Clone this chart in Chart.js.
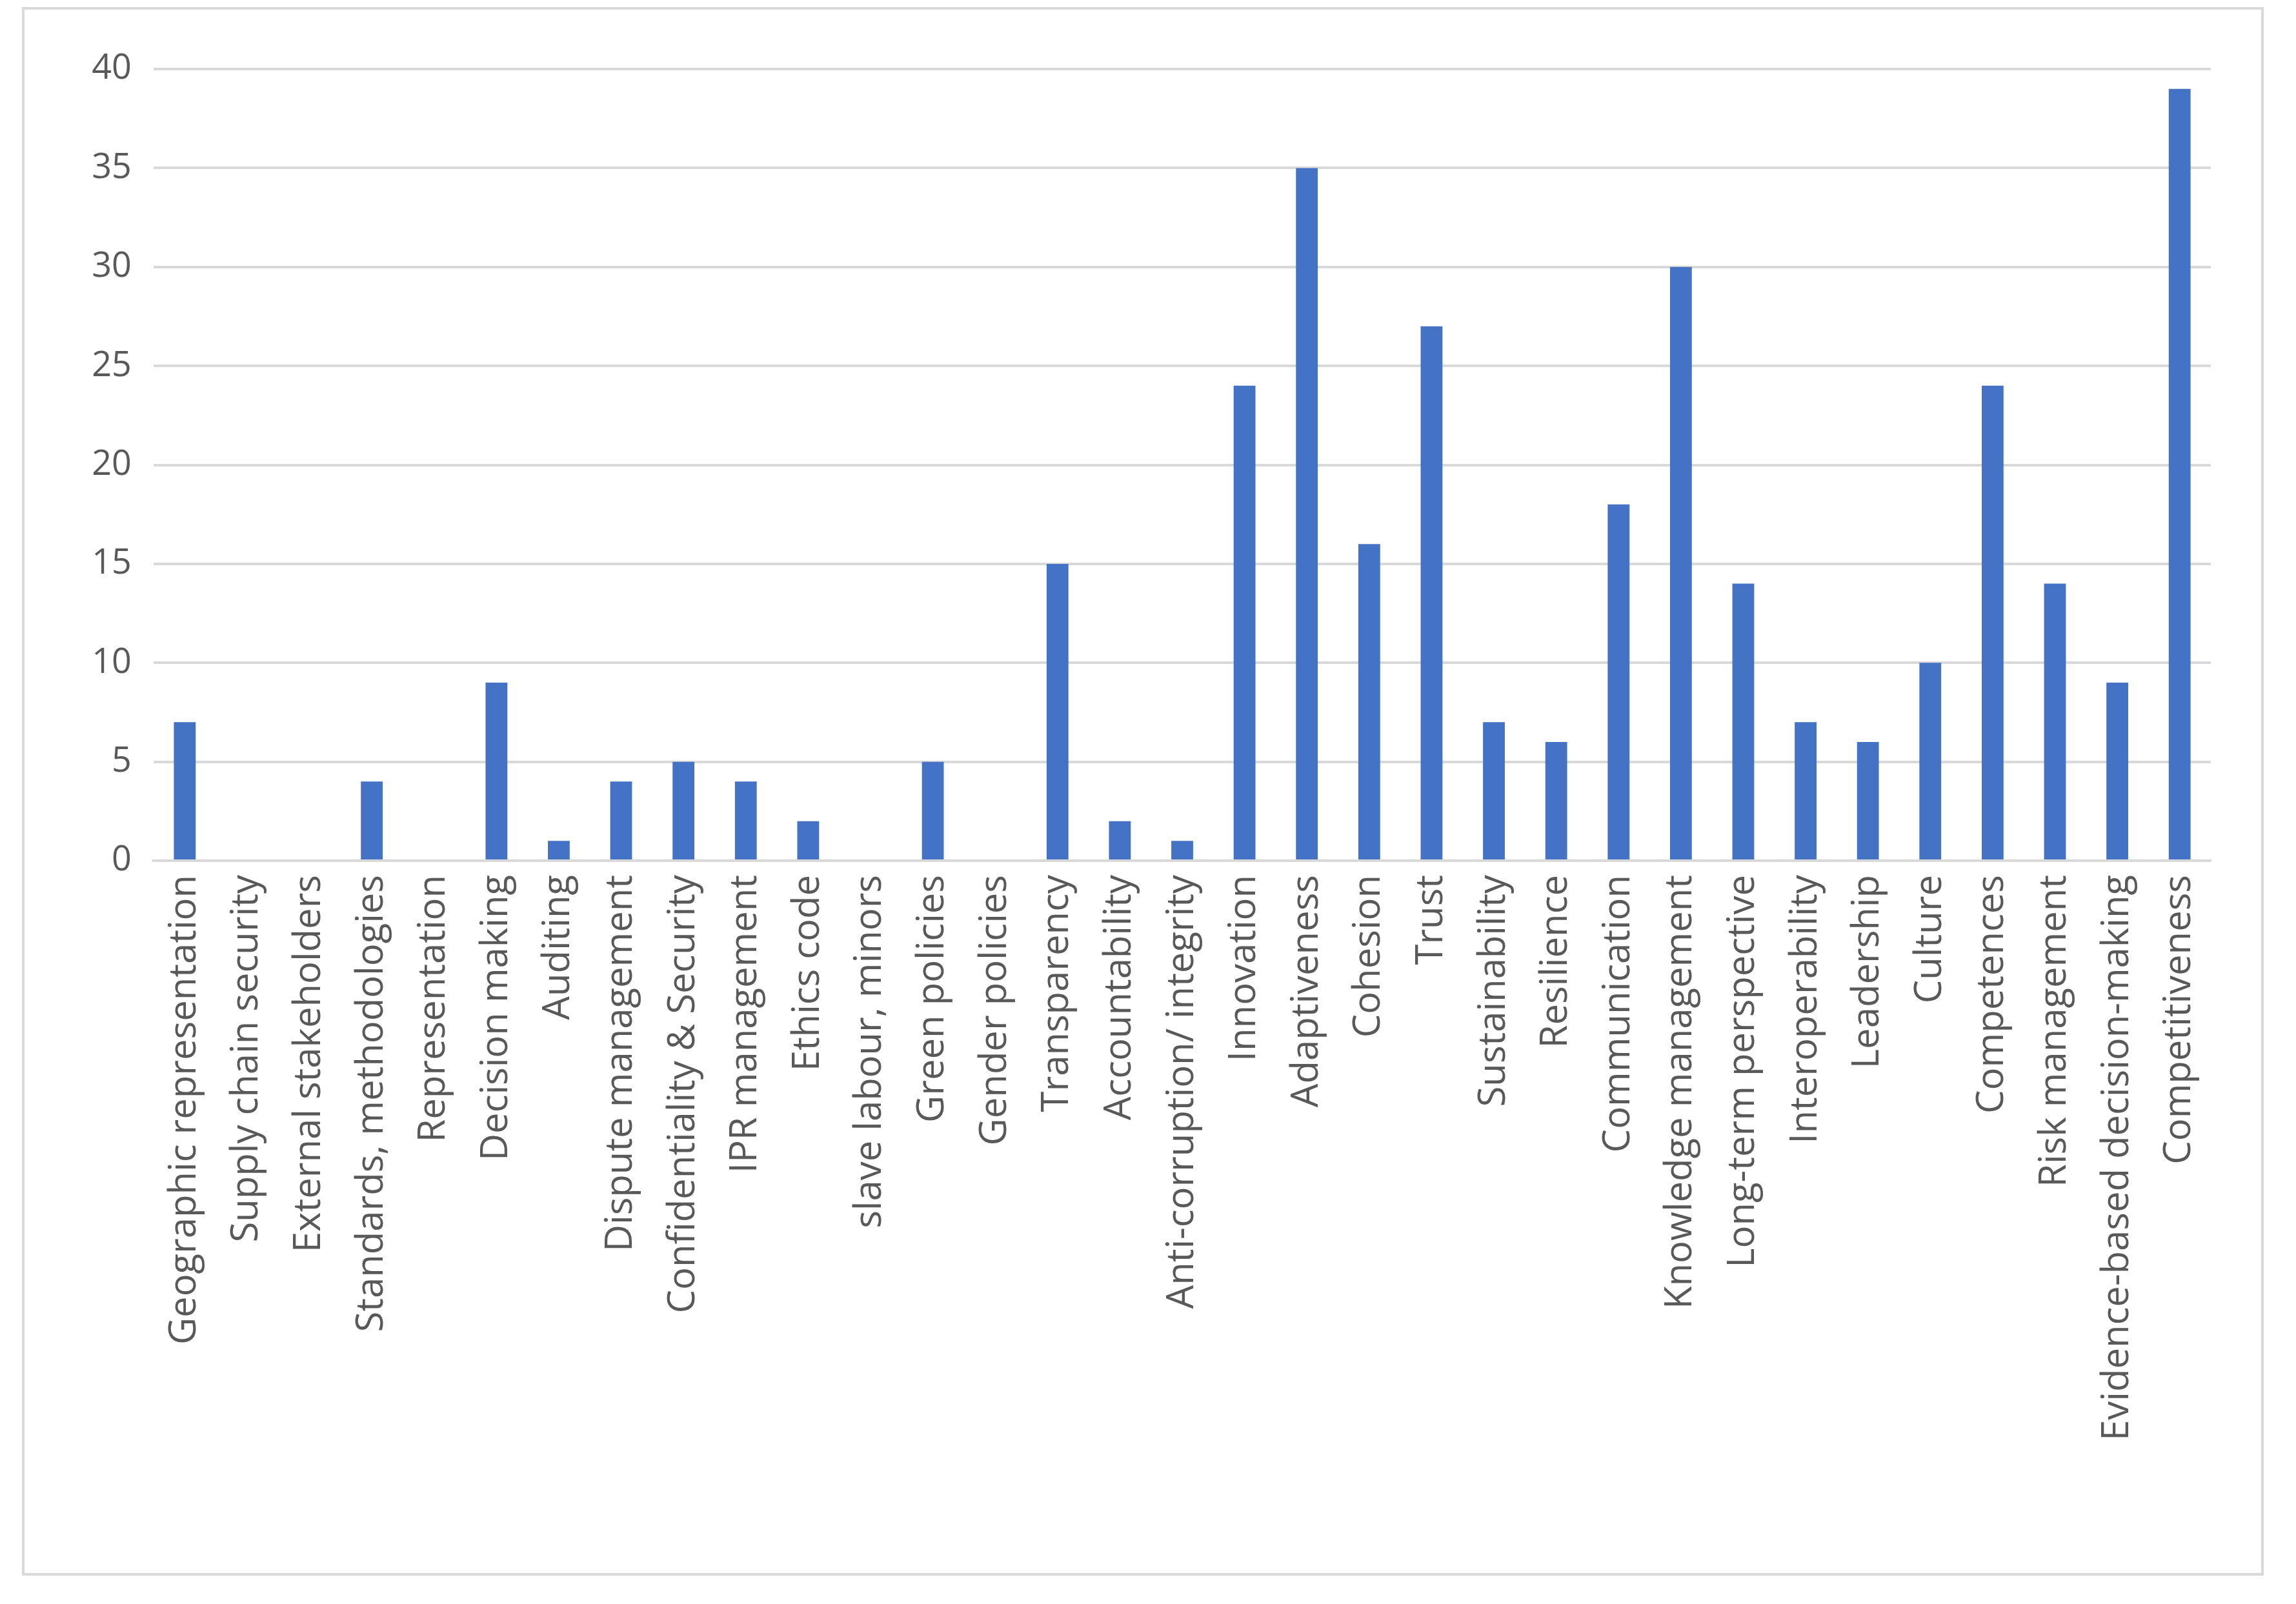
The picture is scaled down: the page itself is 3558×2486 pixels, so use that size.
<!DOCTYPE html>
<html><head><meta charset="utf-8">
<script src="https://cdn.jsdelivr.net/npm/chart.js@4/dist/chart.umd.min.js"></script>
<style>
html,body{margin:0;padding:0;background:#fff;width:3558px;height:2486px;overflow:hidden}
#box{position:absolute;left:34px;top:11px;width:3474px;height:2431px;border:4px solid #d9d9d9;box-sizing:border-box}
#wrap{position:absolute;left:0;top:0;width:3466px;height:2423px}
</style></head><body>
<div id="box"><div id="wrap"><canvas id="c"></canvas></div></div>
<script>
const categories=["Geographic representation","Supply chain security","External stakeholders","Standards, methodologies","Representation","Decision making","Auditing","Dispute management","Confidentiality & Security","IPR management","Ethics code","slave labour, minors","Green policies","Gender policies","Transparency","Accountability","Anti-corruption/ integrity","Innovation","Adaptiveness","Cohesion","Trust","Sustainability","Resilience","Communication","Knowledge management","Long-term perspective","Interoperability","Leadership","Culture","Competences","Risk management","Evidence-based decision-making","Competitiveness"];
const values=[7,0,0,4,0,9,1,4,5,4,2,0,5,0,15,2,1,24,35,16,27,7,6,18,30,14,7,6,10,24,14,9,39];
const yTicks=[0,5,10,15,20,25,30,35,40];
new Chart(document.getElementById('c'),{
type:'bar',
data:{labels:categories,datasets:[{data:values,backgroundColor:'#4472C4',categoryPercentage:0.7,barPercentage:0.5}]},
options:{responsive:true,maintainAspectRatio:false,animation:false,
layout:{padding:{top:92,right:78,left:0,bottom:0}},
plugins:{legend:{display:false},tooltip:{enabled:false}},
scales:{
x:{grid:{display:false},border:{color:'#d9d9d9',width:4},afterFit:s=>{s.height=1104;},
ticks:{color:'#595959',font:{family:'Open Sans',size:58},minRotation:90,maxRotation:90,autoSkip:false,padding:14}},
y:{min:0,max:40,afterBuildTicks:a=>{a.ticks=yTicks.map(v=>({value:v}));},afterFit:s=>{s.width=200;},
grid:{color:'#d9d9d9',lineWidth:4,drawTicks:false},border:{display:false},
ticks:{color:'#595959',font:{family:'Open Sans',size:54},padding:34}}
}}});
</script></body></html>
